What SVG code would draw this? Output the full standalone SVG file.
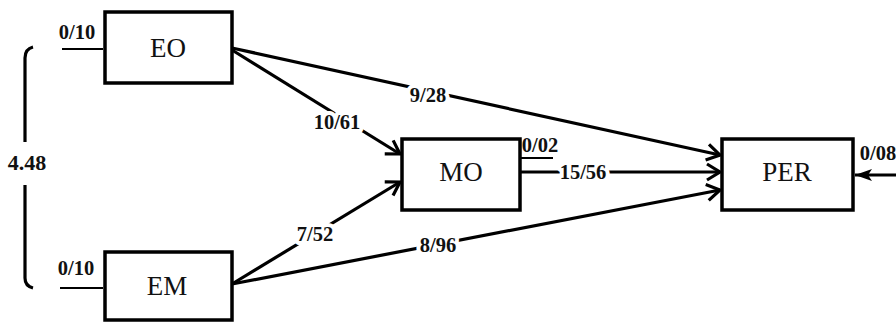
<svg xmlns="http://www.w3.org/2000/svg" width="896" height="324" viewBox="0 0 896 324">
<style>
.box{fill:#fff;stroke:#000;stroke-width:3.5}
.nt{font-family:"Liberation Serif",serif;font-size:27px;text-anchor:middle;fill:#111}
.num{font-family:"Liberation Serif",serif;font-size:20.5px;font-weight:bold;text-anchor:middle;fill:#111}
.brk{paint-order:stroke;stroke:#fff;stroke-width:8px;stroke-linejoin:round}
.ln{stroke:#000;stroke-width:3.2;fill:none}
.thin{stroke:#000;stroke-width:2;fill:none}
</style>
<defs>
<marker id="chev" markerUnits="userSpaceOnUse" markerWidth="22" markerHeight="22" viewBox="0 0 22 22" refX="18" refY="11" orient="auto">
<path d="M5,3 L18,11 L5,19" fill="none" stroke="#000" stroke-width="3.2"/>
</marker>
<marker id="tri" markerUnits="userSpaceOnUse" markerWidth="18" markerHeight="14" viewBox="0 0 18 14" refX="17" refY="7" orient="auto">
<path d="M0,1 L17,7 L0,13 L4,7 Z" fill="#000"/>
</marker>
</defs>
<g id="connectors">
<line class="ln" x1="232" y1="48" x2="720" y2="155" marker-end="url(#chev)"/>
<line class="ln" x1="232" y1="50" x2="400" y2="154" marker-end="url(#chev)"/>
<line class="ln" x1="232" y1="284" x2="400" y2="182" marker-end="url(#chev)"/>
<line class="ln" x1="232" y1="284" x2="720" y2="190" marker-end="url(#chev)"/>
<line class="ln" x1="520" y1="172" x2="720" y2="172" marker-end="url(#chev)"/>
<line class="ln" x1="896" y1="175" x2="855" y2="175" marker-end="url(#tri)"/>
<line class="thin" x1="62" y1="49" x2="103" y2="49"/>
<line class="thin" x1="60" y1="288" x2="103" y2="288"/>
<line class="thin" x1="521" y1="158" x2="553" y2="158"/>
<path class="ln" d="M33,47 Q25,49 25,58 L25,142"/>
<path class="ln" d="M25,185 L25,278 Q25,286 33,288"/>
<text class="num brk" x="428" y="102">9/28</text>
<text class="num brk" x="337" y="129">10/61</text>
<text class="num brk" x="315" y="241">7/52</text>
<text class="num brk" x="438" y="252">8/96</text>
<text class="num brk" x="583" y="179">15/56</text>
<text class="num" x="77" y="39">0/10</text>
<text class="num" x="76" y="275">0/10</text>
<text class="num" x="540" y="152">0/02</text>
<text class="num" x="878" y="160">0/08</text>
<text class="num" x="27" y="170" style="font-size:22px">4.48</text>
</g>
<g id="EO"><rect class="box" x="105" y="12" width="127" height="71"/><text class="nt" x="168" y="57">EO</text></g>
<g id="EM"><rect class="box" x="105" y="252" width="127" height="68"/><text class="nt" x="167" y="295">EM</text></g>
<g id="MO"><rect class="box" x="402" y="139" width="118" height="71"/><text class="nt" x="461" y="181">MO</text></g>
<g id="PER"><rect class="box" x="722" y="139" width="131" height="71"/><text class="nt" x="787" y="181">PER</text></g>
</svg>
